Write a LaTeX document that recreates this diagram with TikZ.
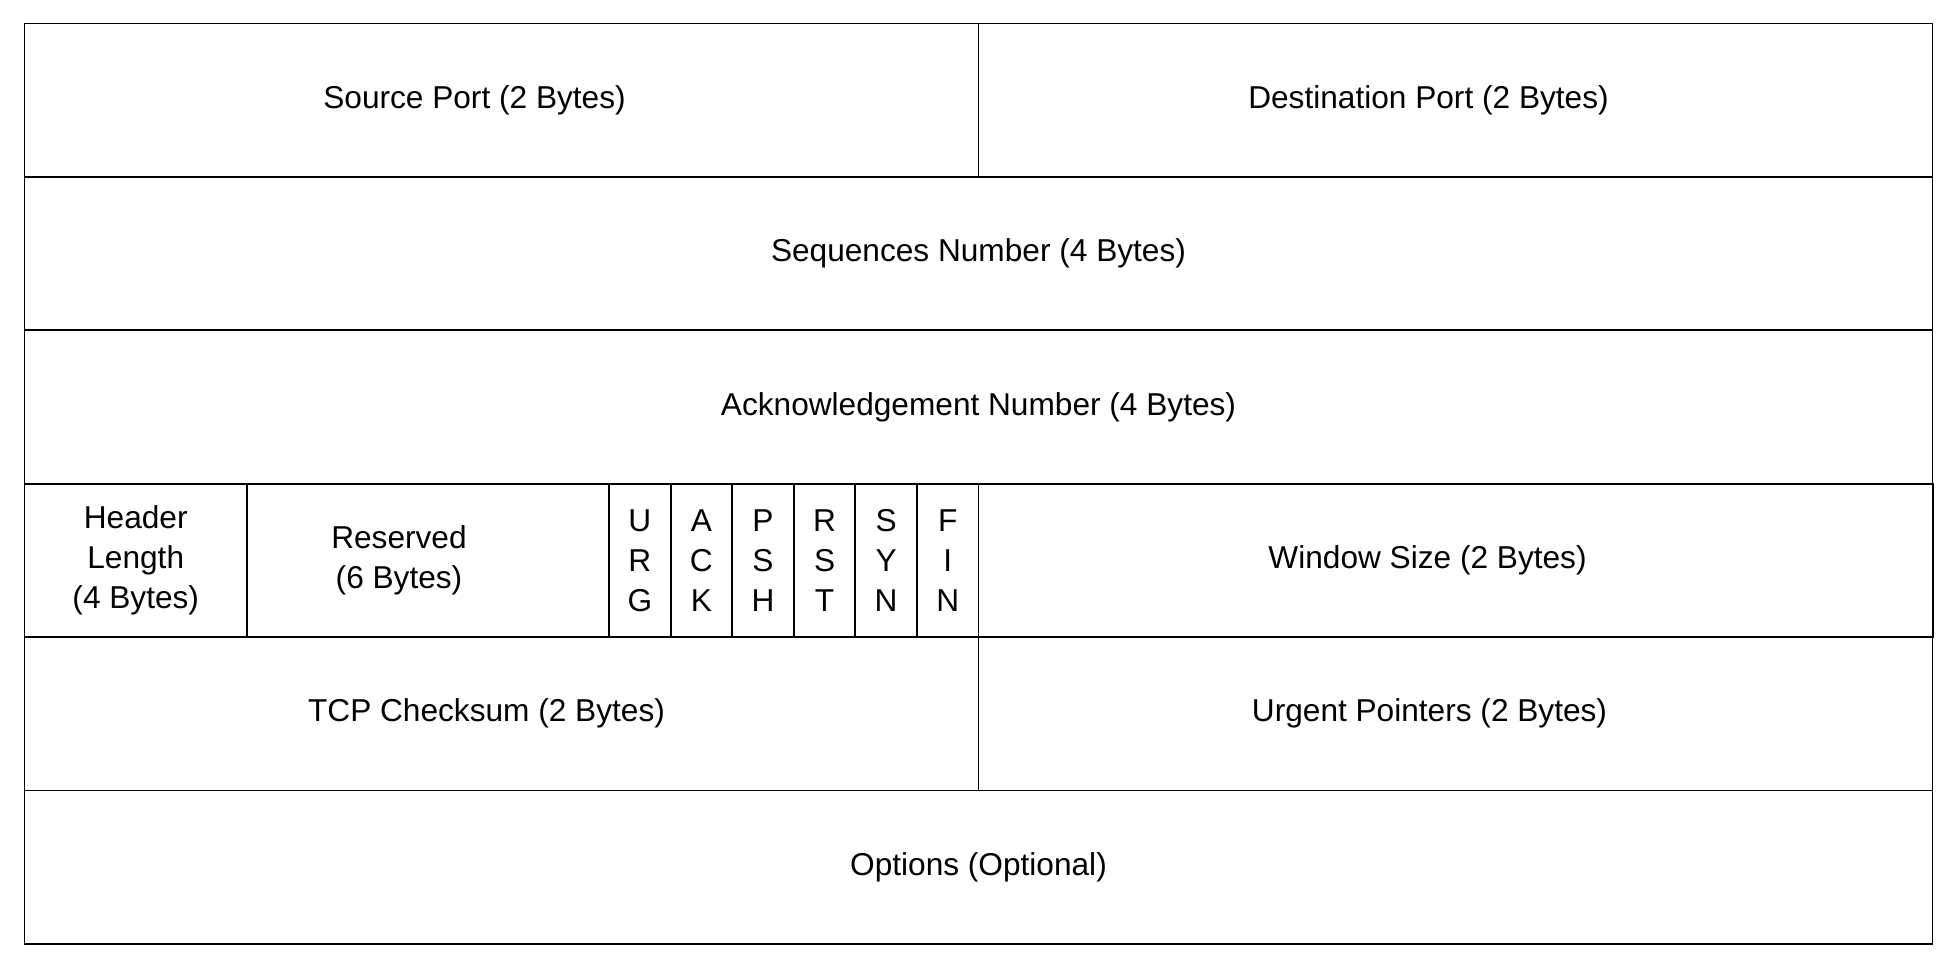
\documentclass[tikz,border=0pt]{standalone}
\usepackage{fontspec}
\setmainfont{Liberation Sans}
\usetikzlibrary{positioning}
\tikzset{
  fieldtext/.style={font=\fontsize{18}{22.7}\selectfont, align=center, inner sep=0pt},
  field/.style={rectangle, draw=black, line width=1.1pt, outer sep=0pt,
    inner sep=0pt, minimum height=3.068cm, fieldtext},
  fullbox/.style={field, minimum width=38.16cm},
  halfbox/.style={field, minimum width=19.08cm},
  hdrbox/.style={field, minimum width=4.45cm},
  resbox/.style={field, minimum width=7.24cm},
  flagbox/.style={field, minimum width=1.2317cm}
}
\begin{document}
\begin{tikzpicture}
  \useasboundingbox (0,0) rectangle (39.14,-19.38);
  % row 1
  \node[halfbox, anchor=north west,
    label={[fieldtext, xshift=-0.54cm]center:Source Port (2 Bytes)}] (srcport) at (0.49,-0.47) {};
  \node[halfbox, right=0pt of srcport,
    label={[fieldtext, xshift=-0.54cm]center:Destination Port (2 Bytes)}] (dstport) {};
  % rows 2 and 3
  \node[fullbox, anchor=north west] (seqnum) at (srcport.south west) {Sequences Number (4 Bytes)};
  \node[fullbox, anchor=north west] (acknum) at (seqnum.south west) {Acknowledgement Number (4 Bytes)};
  % row 4
  \node[hdrbox, anchor=north west] (hdrlen) at (acknum.south west) {Header\\Length\\(4 Bytes)};
  \node[resbox, right=0pt of hdrlen,
    label={[fieldtext, xshift=-0.58cm]center:Reserved\\(6 Bytes)}] (reserved) {};
  \node[flagbox, right=0pt of reserved] (urg) {U\\R\\G};
  \node[flagbox, right=0pt of urg] (ack) {A\\C\\K};
  \node[flagbox, right=0pt of ack] (psh) {P\\S\\H};
  \node[flagbox, right=0pt of psh] (rst) {R\\S\\T};
  \node[flagbox, right=0pt of rst] (syn) {S\\Y\\N};
  \node[flagbox, right=0pt of syn] (fin) {F\\I\\N};
  \node[halfbox, right=0pt of fin,
    label={[fieldtext, xshift=-0.56cm]center:Window Size (2 Bytes)}] (winsize) {};
  % row 5
  \node[halfbox, anchor=north west,
    label={[fieldtext, xshift=-0.30cm]center:TCP Checksum (2 Bytes)}] (checksum) at (hdrlen.south west) {};
  \node[halfbox, right=0pt of checksum,
    label={[fieldtext, xshift=-0.52cm]center:Urgent Pointers (2 Bytes)}] (urgptr) {};
  % row 6
  \node[fullbox, anchor=north west] (options) at (checksum.south west) {Options (Optional)};
\end{tikzpicture}
\end{document}
